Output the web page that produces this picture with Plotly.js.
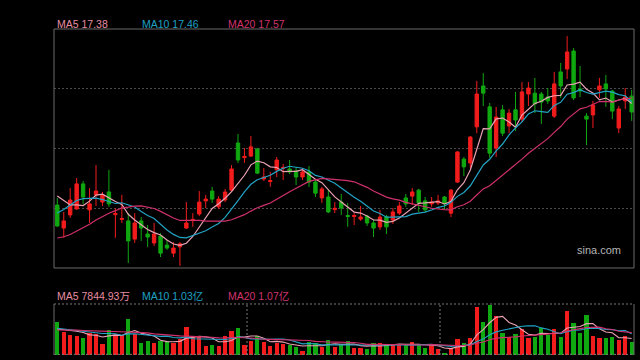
<!DOCTYPE html>
<html>
<head>
<meta charset="utf-8">
<script src="https://cdn.plot.ly/plotly-3.0.1.min.js"></script>
<style>
html,body{margin:0;padding:0;background:#000;}
#chart{width:640px;height:360px;}
</style>
</head>
<body>
<div id="chart"></div>
<script>
// ---- data ----
const preClose = [12.64, 12.64, 12.48, 11.97, 11.64, 11.64, 11.81, 11.97, 11.97, 11.64,
  12.31, 12.64, 13.15, 13.65, 13.98, 14.28, 14.82, 14.69, 14.35];

const open = [13.98, 13.21, 13.65, 13.85, 14.69, 13.82, 14.32, 14.08, 14.42, 13.66,
  13.50, 13.45, 12.84, 13.45, 13.01, 12.71, 12.94, 12.64, 12.37, 12.58,
  13.21, 13.46, 13.68, 14.12, 14.45, 13.92, 14.15, 14.48, 16.06, 15.57,
  15.62, 15.86, 14.85, 14.77, 15.16, 15.21, 15.19, 15.12, 14.92, 15.09,
  14.75, 14.22, 14.25, 13.83, 14.08, 13.63, 13.60, 13.51, 13.61, 13.38,
  13.25, 13.58, 13.48, 13.71, 14.22, 14.28, 14.48, 14.12, 14.02, 14.05,
  14.25, 13.71, 14.75, 15.52, 15.39, 16.60, 17.97, 17.27, 15.89, 17.17,
  16.63, 17.17, 16.86, 17.70, 17.73, 17.70, 17.60, 16.96, 18.44, 18.54,
  19.14, 17.87, 16.96, 17.00, 17.84, 18.04, 17.80, 16.56, 17.47, 17.63];

const close = [13.28, 13.45, 14.15, 14.69, 14.25, 14.02, 14.45, 14.32, 14.02, 13.70,
  13.53, 12.78, 13.38, 13.21, 12.91, 13.01, 12.37, 12.54, 12.54, 12.68,
  13.38, 13.50, 14.08, 14.18, 14.18, 14.18, 14.42, 15.19, 15.49, 15.61,
  15.93, 15.05, 14.92, 14.80, 15.49, 15.24, 15.09, 14.92, 15.09, 14.75,
  14.38, 14.52, 13.75, 13.87, 13.88, 13.60, 13.63, 13.58, 13.38, 13.21,
  13.58, 13.25, 13.75, 13.95, 14.02, 14.42, 14.05, 13.82, 14.08, 14.12,
  14.02, 14.48, 15.76, 15.26, 16.26, 17.70, 17.73, 15.72, 16.93, 16.39,
  17.06, 16.83, 17.77, 17.90, 17.37, 17.43, 17.47, 18.04, 17.97, 19.11,
  17.57, 17.80, 16.86, 17.33, 17.97, 17.87, 17.13, 17.20, 17.60, 17.10];

const high = [14.22, 13.75, 14.55, 14.89, 14.79, 14.55, 15.32, 14.42, 15.16, 13.88,
  14.32, 13.71, 13.71, 13.58, 13.31, 13.38, 13.04, 12.81, 12.74, 12.74,
  14.08, 13.71, 14.45, 14.32, 14.59, 14.28, 14.52, 15.32, 16.36, 15.89,
  16.29, 15.89, 15.22, 15.09, 15.59, 15.36, 15.49, 15.26, 15.22, 15.29,
  14.82, 14.59, 14.48, 14.08, 14.35, 14.05, 13.71, 13.95, 13.65, 13.48,
  13.82, 13.65, 13.88, 14.08, 14.35, 14.55, 14.52, 14.25, 14.25, 14.32,
  14.28, 14.52, 15.79, 15.59, 16.29, 18.14, 18.40, 17.40, 17.27, 17.33,
  17.20, 17.77, 18.10, 18.10, 18.24, 17.77, 17.90, 18.44, 18.74, 19.64,
  19.24, 18.64, 17.06, 17.47, 18.24, 18.34, 17.84, 17.30, 17.90, 17.84];

const low = [13.25, 12.88, 13.55, 13.82, 14.02, 13.38, 13.95, 13.95, 13.92, 12.88,
  13.38, 12.04, 12.71, 12.78, 12.58, 12.61, 12.24, 12.48, 12.24, 11.94,
  13.18, 13.25, 13.61, 13.88, 14.05, 13.85, 14.08, 14.42, 15.39, 15.39,
  15.59, 15.02, 14.79, 14.59, 14.92, 14.82, 15.02, 14.65, 14.82, 14.59,
  14.25, 14.05, 13.71, 13.71, 13.65, 13.25, 13.31, 13.45, 13.28, 12.91,
  13.15, 13.01, 13.35, 13.65, 13.92, 13.98, 13.75, 13.75, 13.92, 13.98,
  13.82, 13.58, 14.72, 14.95, 15.22, 16.39, 17.30, 15.56, 15.59, 16.29,
  16.39, 16.46, 16.76, 17.30, 17.06, 16.70, 17.37, 16.90, 17.57, 18.20,
  17.50, 17.60, 15.99, 16.56, 17.57, 17.27, 16.86, 16.39, 17.20, 16.80];

// volume, in units of 10,000 shares (万)
const preVolume = [9600, 12480, 8640, 11520, 14400, 10560, 9120, 12960, 10080, 12480,
  14880, 11520, 13440, 10560, 15360, 12960, 10080, 12000, 11380];

const volume = [15980, 10900, 9600, 9260, 8160, 10420, 10080, 5280, 12000, 9940,
  9460, 17280, 9940, 5900, 6720, 5900, 6860, 6720, 5620, 7680,
  13580, 9120, 8780, 4460, 4940, 4460, 9120, 11660, 13100, 4940,
  6860, 9120, 6380, 4460, 5900, 5140, 4660, 3980, 2060, 6380,
  5620, 3980, 7200, 3980, 4800, 6720, 3500, 3500, 2880, 5900,
  5900, 4800, 4800, 5140, 4800, 6380, 4800, 3500, 4800, 2740,
  1100, 3220, 7680, 5900, 8300, 23180, 15980, 24000, 18860, 10700,
  8500, 10080, 12340, 8020, 8780, 12820, 9600, 12340, 8780, 21120,
  15500, 10700, 19200, 9120, 8300, 8020, 8780, 7200, 9120, 6380];

const priceLabels = ["MA5 17.38", "MA10 17.46", "MA20 17.57"];
const volumeLabels = ["MA5 7844.93万", "MA10 1.03亿", "MA20 1.07亿"];
const maPeriods = [5, 10, 20];

// ---- styling ----
const UP = '#f21c1c', DOWN = '#10a810';
const MA_COLORS = ['#eaa2b4', '#22a4c6', '#d0306c'];
const LABEL_COLORS = ['#e68da2', '#1fa0c2', '#d1336d'];
const FONT = 'Liberation Sans, Arial, "Noto Sans CJK SC", sans-serif';

function movingAvg(pre, vals, n) {
  const all = pre.concat(vals);
  return vals.map((_, i) => {
    const end = pre.length + i;
    let s = 0;
    for (let k = end - n + 1; k <= end; k++) s += all[k];
    return s / n;
  });
}

const days = close.map((_, i) => i);
const volColors = close.map((c, i) => (c >= open[i] ? UP : DOWN));

const traces = [];
traces.push({
  type: 'candlestick', x: days, open: open, high: high, low: low, close: close,
  xaxis: 'x', yaxis: 'y',
  increasing: {line: {color: UP, width: 1}, fillcolor: UP},
  decreasing: {line: {color: DOWN, width: 1}, fillcolor: DOWN},
  whiskerwidth: 0, hoverinfo: 'skip', showlegend: false
});
maPeriods.forEach((n, k) => {
  traces.push({
    type: 'scatter', mode: 'lines', x: days, y: movingAvg(preClose, close, n),
    xaxis: 'x', yaxis: 'y', line: {color: MA_COLORS[k], width: 1.2},
    hoverinfo: 'skip', showlegend: false
  });
});
traces.push({
  type: 'bar', x: days, y: volume, xaxis: 'x', yaxis: 'y2',
  marker: {color: volColors, line: {width: 0}}, width: 0.66,
  hoverinfo: 'skip', showlegend: false
});
maPeriods.forEach((n, k) => {
  traces.push({
    type: 'scatter', mode: 'lines', x: days, y: movingAvg(preVolume, volume, n),
    xaxis: 'x', yaxis: 'y2', line: {color: MA_COLORS[k], width: 1.1},
    hoverinfo: 'skip', showlegend: false
  });
});

const mainBottom = 0.2669, volTop = 0.1564;
const annotations = [];
const labelX = [0.0017, 0.1483, 0.2960];
priceLabels.forEach((t, k) => annotations.push({
  text: t, xref: 'paper', yref: 'paper', x: labelX[k], y: 1.0153,
  xanchor: 'left', yanchor: 'middle', showarrow: false,
  font: {family: FONT, size: 10.5, color: LABEL_COLORS[k]}
}));
volumeLabels.forEach((t, k) => annotations.push({
  text: t, xref: 'paper', yref: 'paper', x: labelX[k], y: 0.1825,
  xanchor: 'left', yanchor: 'middle', showarrow: false,
  font: {family: FONT, size: 10.5, color: LABEL_COLORS[k]}
}));
annotations.push({
  text: 'sina.com', xref: 'paper', yref: 'paper', x: 0.981, y: 0.3236,
  xanchor: 'right', yanchor: 'middle', showarrow: false,
  font: {family: FONT, size: 11, color: '#b4b4b4'}
});

const shapes = [
  {type: 'rect', xref: 'paper', yref: 'paper', x0: 0, x1: 1, y0: mainBottom, y1: 1,
   line: {color: '#6a6a6a', width: 1}},
  {type: 'line', xref: 'paper', yref: 'paper', x0: 0, x1: 0, y0: 0, y1: volTop,
   line: {color: '#6a6a6a', width: 1}},
  {type: 'line', xref: 'paper', yref: 'paper', x0: 1, x1: 1, y0: 0, y1: volTop,
   line: {color: '#6a6a6a', width: 1}},
  {type: 'line', xref: 'paper', yref: 'paper', x0: 0, x1: 1, y0: volTop, y1: volTop,
   line: {color: '#7a7a7a', width: 1, dash: '2px,2px'}},
  {type: 'line', xref: 'paper', yref: 'paper', x0: 0, x1: 1, y0: 0.002, y1: 0.002,
   line: {color: '#7a7a7a', width: 1, dash: '2px,2px'}},
  {type: 'line', xref: 'x', yref: 'paper', x0: 29.4, x1: 29.4, y0: 0, y1: volTop,
   line: {color: '#7a7a7a', width: 1, dash: '2px,2px'}},
  {type: 'line', xref: 'x', yref: 'paper', x0: 59.3, x1: 59.3, y0: 0, y1: volTop,
   line: {color: '#7a7a7a', width: 1, dash: '2px,2px'}}
];

const layout = {
  width: 640, height: 360,
  margin: {l: 54, r: 6, t: 29, b: 5, pad: 0},
  paper_bgcolor: '#000', plot_bgcolor: '#000',
  showlegend: false, hovermode: false, dragmode: false,
  boxgap: 0.25,
  bargap: 0,
  xaxis: {
    range: [-0.51, 89.36], anchor: 'y2', showticklabels: false, showgrid: false,
    zeroline: false, showline: false, ticks: '', rangeslider: {visible: false}, fixedrange: true
  },
  yaxis: {
    domain: [mainBottom, 1], range: [11.872, 19.879], anchor: 'x',
    tickvals: [13.87, 15.87, 17.87], showticklabels: false, ticks: '',
    showgrid: true, gridcolor: '#4a4a4a', griddash: '2px,2px', gridwidth: 1,
    zeroline: false, showline: false, fixedrange: true
  },
  yaxis2: {
    domain: [0, volTop], range: [0, 24480], anchor: 'x',
    showticklabels: false, showgrid: false, zeroline: false, showline: false,
    ticks: '', fixedrange: true
  },
  shapes: shapes,
  annotations: annotations
};

Plotly.newPlot('chart', traces, layout, {displayModeBar: false, staticPlot: true});
</script>
</body>
</html>
